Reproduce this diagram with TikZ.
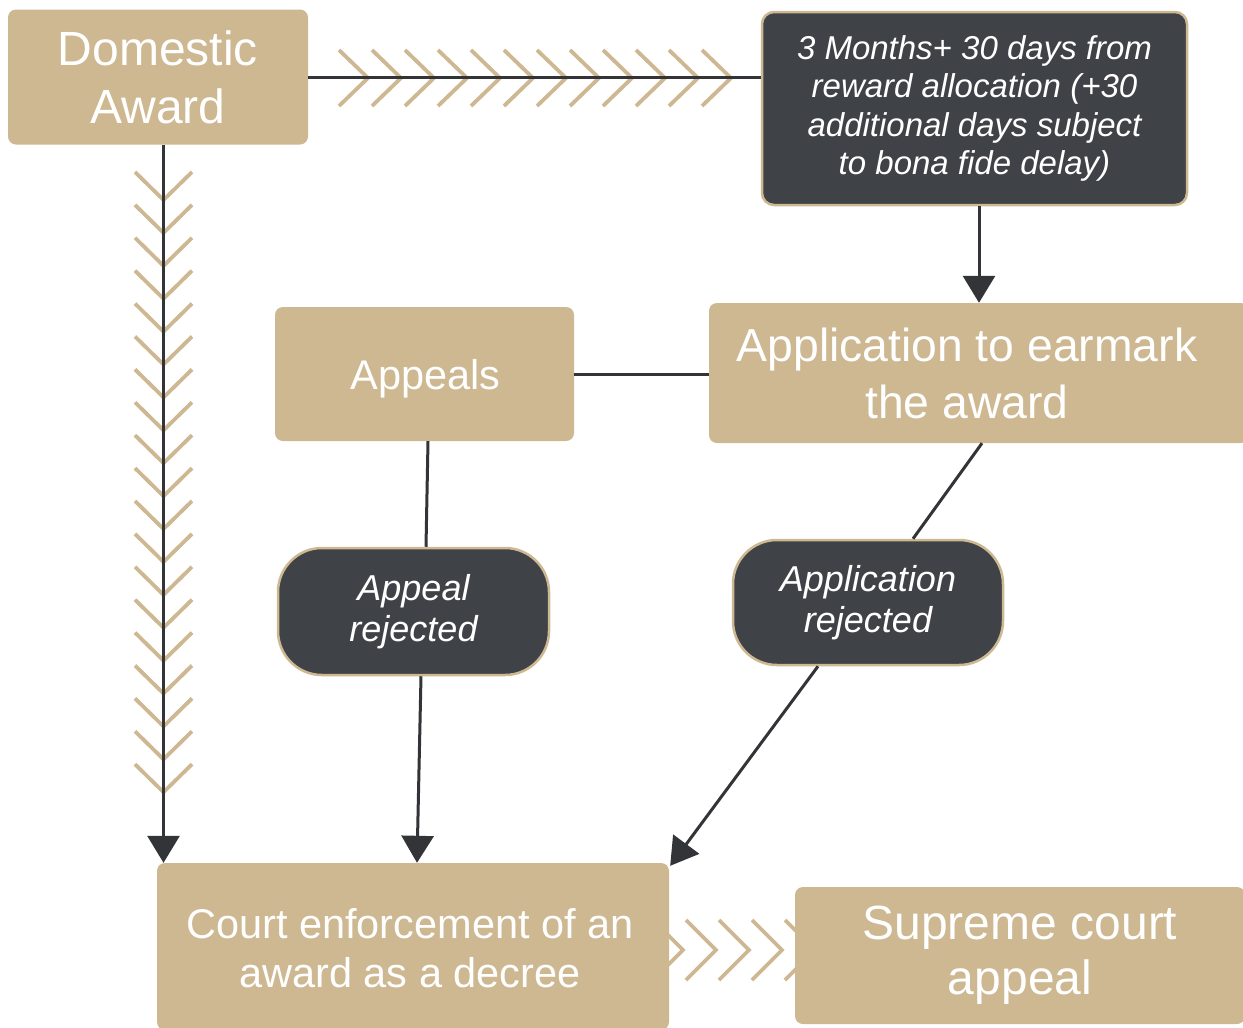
\documentclass[tikz,border=0pt]{standalone}
\usepackage{fontspec}
\setmainfont{Liberation Sans}
\usetikzlibrary{arrows.meta,calc}
\definecolor{goldtan}{HTML}{CDB891}
\definecolor{slate}{HTML}{3F4347}
\definecolor{ink}{HTML}{333438}
\tikzset{
 tanbox/.style={fill=goldtan, rounded corners=8pt, text=white, align=center, inner sep=0pt},
 darkbox/.style={fill=slate, draw=goldtan, line width=2.5pt, text=white, align=center, inner sep=0pt},
 conn/.style={draw=ink, line width=3pt},
 arr/.style={conn, -{Triangle[width=32pt,length=27pt]}},
 chev/.style={draw=goldtan, line width=3.8pt, line cap=butt, miter limit=10},
 lbl/.style={text=white, align=center, inner sep=0pt},
}
\begin{document}
\begin{tikzpicture}[x=1pt,y=-1pt]
\useasboundingbox (0,0) rectangle (1243,1028);
\fill[white] (0,0) rectangle (1243,1028);

% bottom chevrons (partly hidden by boxes)
\foreach \k in {0,...,4} {
  \draw[chev] ({683+33*\k-30},920) -- ({683+33*\k},950) -- ({683+33*\k-30},980);
}

% nodes
\node[tanbox, minimum width=300pt, minimum height=135pt, font=\fontsize{48}{58}\selectfont] (dom) at (158,77) {Domestic\\Award};
\node[darkbox, rounded corners=12pt, minimum width=425pt, minimum height=193pt, font=\fontsize{33}{38.5}\selectfont\itshape] (months) at (974.5,108.5) {3 Months+ 30 days from\\reward allocation (+30\\additional days subject\\to bona fide delay)};
\node[tanbox, minimum width=540pt, minimum height=140pt] (app) at (979,373) {};
\node[lbl, font=\fontsize{46.3}{57}\selectfont] (apptext) at ($(app.center)+(-12,0)$) {Application to earmark\\the award};
\node[tanbox, minimum width=299pt, minimum height=134pt] (appeals) at (424.5,374) {};
\node[lbl, font=\fontsize{41.5}{48}\selectfont] (appealstext) at ($(appeals.center)+(1,5)$) {Appeals};
\node[darkbox, rounded corners=44pt, minimum width=271pt, minimum height=127pt, font=\fontsize{36}{40.5}\selectfont\itshape] (arej) at (413.5,611.5) {Appeal\\rejected};
\node[darkbox, rounded corners=44pt, minimum width=270pt, minimum height=125pt, font=\fontsize{36}{40.5}\selectfont\itshape] (aprej) at (868,602.5) {Application\\rejected};
\node[tanbox, minimum width=512pt, minimum height=167pt] (court) at (413,946.5) {};
\node[lbl, font=\fontsize{41.5}{49}\selectfont] (courttext) at ($(court.center)+(-3,2)$) {Court enforcement of an\\award as a decree};
\node[tanbox, minimum width=450pt, minimum height=137pt, font=\fontsize{48}{55}\selectfont] (sup) at (1020,955.5) {Supreme court\\appeal};

% horizontal chevrons (Domestic -> months)
\foreach \k in {0,...,11} {
  \draw[chev] ({368+33*\k-29},50) -- ({368+33*\k},78) -- ({368+33*\k-29},106);
}
\draw[conn] (dom.east) -- (dom.east -| months.west);

% vertical chevrons (Domestic -> court)
\foreach \k in {0,...,18} {
  \draw[chev] (135,{200+32.9*\k-28}) -- (163.5,{200+32.9*\k}) -- (192,{200+32.9*\k-28});
}
\coordinate (dstart) at ($(dom.south)+(5.5,0)$);
\draw[arr] (dstart) -- (dstart |- court.north);

% other connectors
\draw[arr] (app.north |- months.south) -- (app.north);
\draw[conn] (appeals.east) -- (appeals.east -| app.west);
\draw[conn] ($(appeals.south)+(3.5,0)$) -- ($(arej.north)+(12.5,0)$);
\draw[arr] ($(arej.south)+(7.5,0)$) -- ($(court.north)+(4,0)$);
\draw[conn] ($(app.south)+(3,0)$) -- ($(aprej.north)+(45,0)$);
\draw[arr] ($(aprej.south)+(-50,0)$) -- ($(court.north east)+(1,3)$);
\end{tikzpicture}
\end{document}
